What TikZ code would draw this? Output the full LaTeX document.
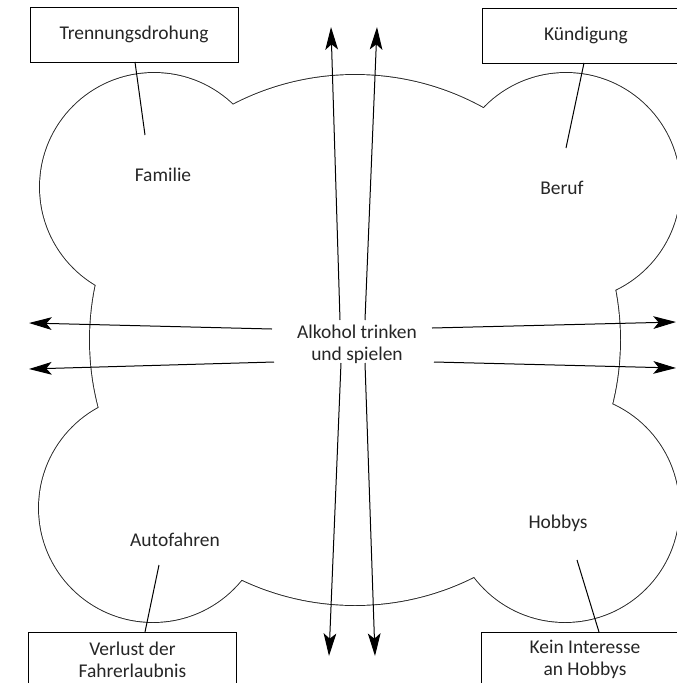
\documentclass[tikz,border=0pt]{standalone}
\usepackage{fontspec}
\setmainfont{Carlito}
\usetikzlibrary{arrows.meta}
\begin{document}
\begin{tikzpicture}[x=0.75pt,y=-0.75pt,
  every node/.style={font=\fontsize{14.6pt}{16.5pt}\selectfont, text=black!85},
  lbox/.style={draw, line width=0.75pt, fill=white, minimum width=156pt, minimum height=41.25pt, inner sep=0pt, align=center},
  lbl/.style={inner sep=1pt, align=center},
  leader/.style={line width=0.75pt},
  arr/.style={line width=0.75pt, -{Stealth[length=17pt,width=9.5pt,inset=4pt]}},
]
\clip (0,0) rectangle (677,683);
\fill[white] (0,0) rectangle (677,683);
% cloud outline: stroke circles, then fill them white
\foreach \cx/\cy/\r in {154/187/85.5, 566/187/85.5, 153/508/85.5, 565/508/85.5, 355/340/198.75}
  \draw[line width=1.4pt, black!85] (\cx,\cy) circle[radius=\r pt];
\foreach \cx/\cy/\r in {154/187/85.5, 566/187/85.5, 153/508/85.5, 565/508/85.5, 355/340/198.75}
  \fill[white] (\cx,\cy) circle[radius=\r pt];

% boxes
\node[lbox] (b1) at (134,34.5) {Trennungsdrohung};
\node[lbox] (b2) at (586,35.5) {Kündigung};
\node[lbox] (b3) at (132.5,659.5) {Verlust der\\Fahrerlaubnis};
\node[lbox] (b4) at (585,659.5) {Kein Interesse\\an Hobbys};

% labels
\node[lbl] (fam) at (163,175) {Familie};
\node[lbl] (ber) at (562,188) {Beruf};
\node[lbl] (auto) at (175,540) {Autofahren};
\node[lbl] (hob) at (558,523) {Hobbys};
\node[lbl] (alk) at (357,344) {Alkohol trinken\\und spielen};

% leader lines
\coordinate (l1a) at (135,62);  \coordinate (l1b) at (145,135);
\coordinate (l2a) at (584,63);  \coordinate (l2b) at (566,148);
\coordinate (l3a) at (145,632); \coordinate (l3b) at (159,565);
\coordinate (l4a) at (599,632); \coordinate (l4b) at (577,560);
\draw[leader] (l1a) -- (l1b);
\draw[leader] (l2a) -- (l2b);
\draw[leader] (l3a) -- (l3b);
\draw[leader] (l4a) -- (l4b);

% arrows from the centre
\coordinate (v1s) at (340,320); \coordinate (v1e) at (331,27);
\coordinate (v2s) at (365,320); \coordinate (v2e) at (377,27);
\coordinate (v3s) at (341,363); \coordinate (v3e) at (329,656);
\coordinate (v4s) at (365,363); \coordinate (v4e) at (375,656);
\coordinate (h1s) at (272,329); \coordinate (h1e) at (29,323);
\coordinate (h2s) at (274,362); \coordinate (h2e) at (29,369);
\coordinate (h3s) at (432,328); \coordinate (h3e) at (676,322);
\coordinate (h4s) at (434,362); \coordinate (h4e) at (676,368);
\foreach \a in {v1,v2,v3,v4,h1,h2,h3,h4}
  \draw[arr] (\a s) -- (\a e);
\end{tikzpicture}
\end{document}
